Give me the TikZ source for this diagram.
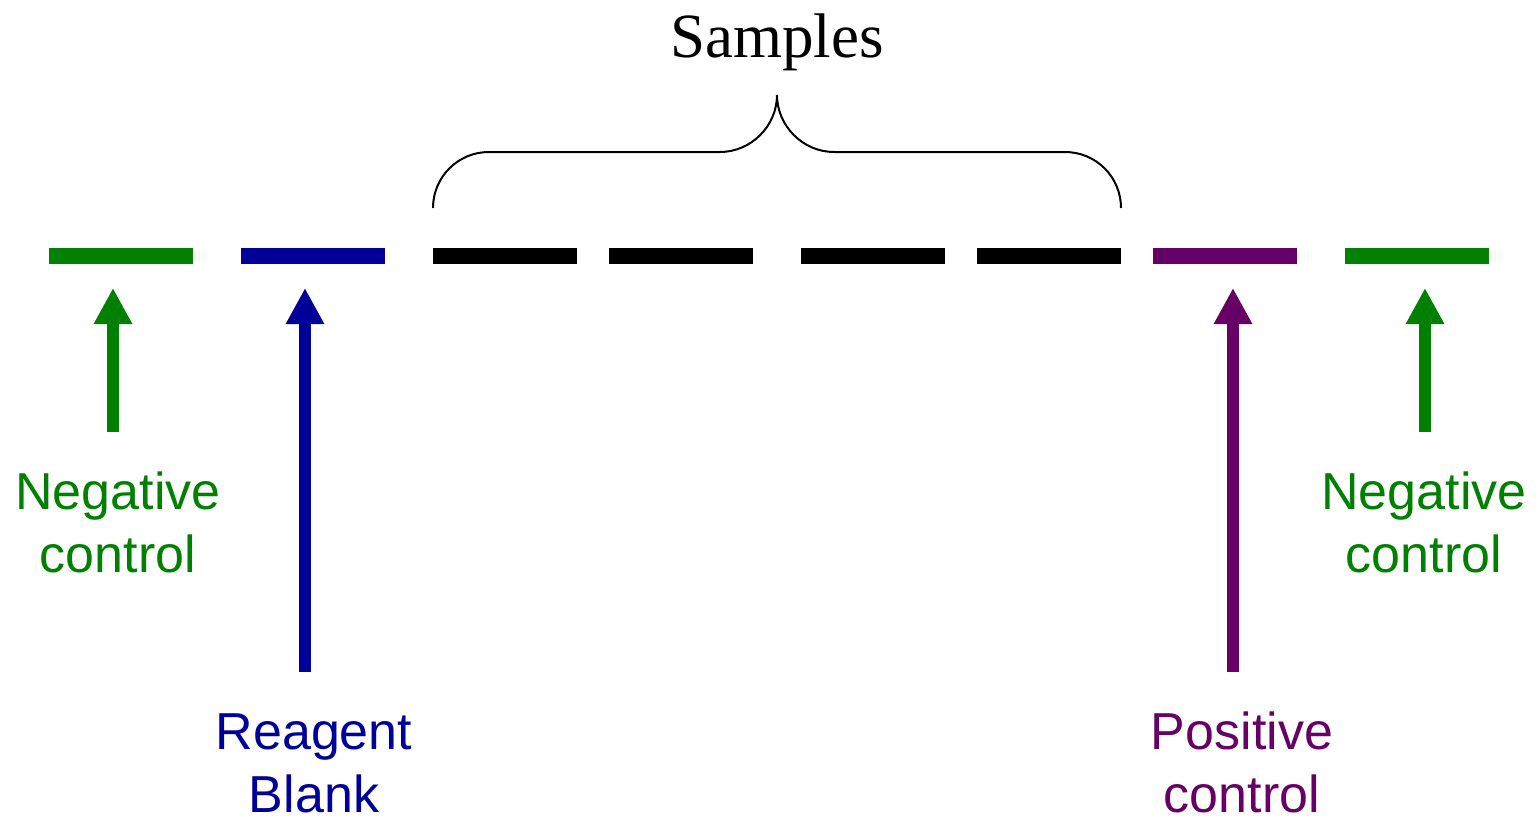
\documentclass[tikz,border=0pt]{standalone}
\usepackage{fontspec}
\setmainfont{Liberation Serif}
\newfontfamily\arialf{Liberation Sans}
\usetikzlibrary{arrows.meta}
\definecolor{ngreen}{RGB}{0,128,0}
\definecolor{rblue}{RGB}{0,0,153}
\definecolor{ppurple}{RGB}{102,0,102}
\tikzset{
  bar/.style={draw=none,fill=#1,minimum width=144pt,minimum height=16pt,inner sep=0pt,outer sep=0pt,rectangle},
  uparrow/.style={draw=#1,line width=12pt,-{Triangle[length=36pt,width=36pt]}},
  lbl/.style={font=\arialf\fontsize{52}{63}\selectfont,text=#1,anchor=base,inner sep=0pt,align=center},
  brace/.style={draw=black,line width=2pt}
}
\begin{document}
\begin{tikzpicture}[x=1pt,y=-1pt]
\useasboundingbox[fill=white] (0,0) rectangle (1536,819);
% bars
\node[bar=ngreen] (b1) at (121,256) {};
\node[bar=rblue] (b2) at (313,256) {};
\node[bar=black] (s1) at (505,256) {};
\node[bar=black] (s2) at (681,256) {};
\node[bar=black] (s3) at (873,256) {};
\node[bar=black] (s4) at (1049,256) {};
\node[bar=ppurple] (b3) at (1225,256) {};
\node[bar=ngreen] (b4) at (1417,256) {};
% brace
\coordinate (bl) at (433,208);
\coordinate (br) at (1121,208);
\coordinate (bt) at (777,95);
\draw[brace] (bl) .. controls (433,177) and (458,152) .. (489,152) -- (720,152)
  .. controls (751,152) and (777,126) .. (bt)
  .. controls (777,126) and (803,152) .. (834,152) -- (1065,152)
  .. controls (1096,152) and (1121,177) .. (br);
\node[font=\fontsize{63}{70}\selectfont,anchor=base,inner sep=0pt] (samples) at (777,57) {Samples};
% labels (base anchor = baseline of the last line)
\node[lbl=ngreen] (l1) at (118,572) {Negative\\control};
\node[lbl=rblue] (l2) at (314,812) {Reagent\\Blank};
\node[lbl=ppurple] (l3) at (1242,812) {Positive\\control};
\node[lbl=ngreen] (l4) at (1424,572) {Negative\\control};
% arrow start points
\coordinate (a1) at (113,432);
\coordinate (a2) at (305,672);
\coordinate (a3) at (1233,672);
\coordinate (a4) at (1425,432);
\draw[uparrow=ngreen] (a1) -- (a1 |- {288,288});
\draw[uparrow=rblue] (a2) -- (a2 |- {288,288});
\draw[uparrow=ppurple] (a3) -- (a3 |- {288,288});
\draw[uparrow=ngreen] (a4) -- (a4 |- {288,288});
\end{tikzpicture}
\end{document}
